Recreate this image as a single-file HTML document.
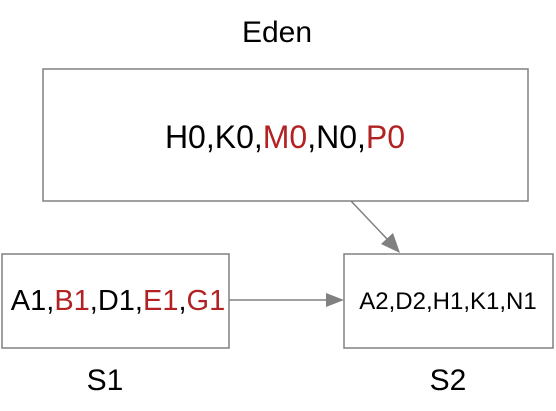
<!DOCTYPE html>
<html><head><style>
body{margin:0;width:556px;height:406px;background:#fff;overflow:hidden}
</style></head><body>
<svg width="556" height="406" xmlns="http://www.w3.org/2000/svg" font-family="Liberation Sans, Arial, sans-serif">
<rect x="43" y="69" width="485" height="132" fill="#fff" stroke="#808080" stroke-width="1.5"/>
<rect x="2" y="254" width="227" height="94" fill="#fff" stroke="#808080" stroke-width="1.5"/>
<rect x="344" y="254" width="209" height="94" fill="#fff" stroke="#808080" stroke-width="1.5"/>
<line x1="351" y1="201" x2="388" y2="240" stroke="#808080" stroke-width="1.5"/>
<polygon points="400,253 381,244 393,233" fill="#808080"/>
<line x1="229" y1="300" x2="328" y2="300" stroke="#808080" stroke-width="1.5"/>
<polygon points="344,300 326,293 326,307" fill="#808080"/>
<text x="277" y="42" font-size="30" text-anchor="middle">Eden</text>
<text x="285" y="148" font-size="32" text-anchor="middle">H0,K0,<tspan fill="#b22222">M0</tspan>,N0,<tspan fill="#b22222">P0</tspan></text>
<text x="118" y="310" font-size="29" text-anchor="middle">A1,<tspan fill="#b22222">B1</tspan>,D1,<tspan fill="#b22222">E1</tspan>,<tspan fill="#b22222">G1</tspan></text>
<text x="448" y="309" font-size="24" text-anchor="middle">A2,D2,H1,K1,N1</text>
<text x="105" y="390" font-size="30" text-anchor="middle">S1</text>
<text x="448" y="390" font-size="30" text-anchor="middle">S2</text>
</svg>
</body></html>
